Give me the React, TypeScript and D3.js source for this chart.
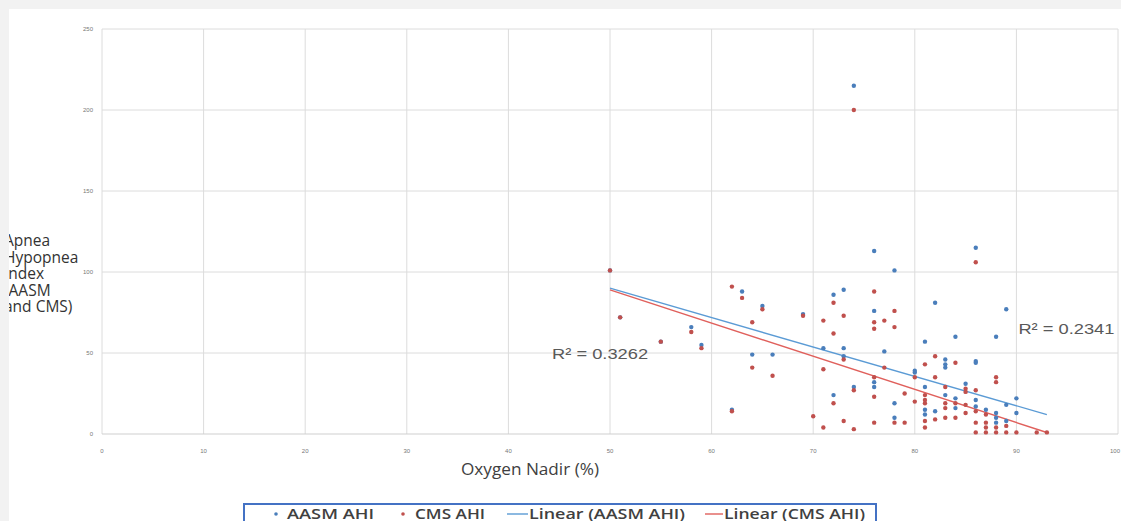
import React, { useRef, useEffect } from "react";
import * as d3 from "d3";

// scatter values: [oxygen nadir %, AHI]
const aasmAhi: [number, number][] = [
  [50, 101], [51, 72], [55, 57], [58, 66], [59, 55], [62, 15], [63, 88], [64, 49],
  [65, 79], [66, 49], [69, 74], [71, 53], [72, 86], [72, 24], [73, 89], [73, 53],
  [73, 48], [74, 215], [74, 29], [76, 113], [76, 76], [76, 32], [76, 29], [77, 51],
  [78, 101], [78, 19], [78, 10], [80, 39], [80, 38], [81, 57], [81, 29], [81, 15],
  [81, 12], [82, 81], [82, 14], [83, 46], [83, 43], [83, 41], [83, 24], [84, 60],
  [84, 22], [84, 16], [85, 31], [86, 115], [86, 45], [86, 44], [86, 21], [86, 17],
  [87, 15], [88, 60], [88, 13], [88, 10], [88, 7], [89, 77], [89, 18], [89, 8],
  [90, 22], [90, 13],
];

const cmsAhi: [number, number][] = [
  [50, 101], [51, 72], [55, 57], [58, 63], [59, 53], [62, 91], [62, 14], [63, 84],
  [64, 69], [64, 41], [65, 77], [66, 36], [69, 73], [70, 11], [71, 70], [71, 40],
  [71, 4], [72, 81], [72, 62], [72, 19], [73, 73], [73, 46], [73, 8], [74, 200],
  [74, 27], [74, 3], [76, 88], [76, 69], [76, 65], [76, 35], [76, 23], [76, 7],
  [77, 70], [77, 41], [78, 76], [78, 66], [78, 7], [79, 25], [79, 7], [80, 35],
  [80, 20], [81, 43], [81, 24], [81, 21], [81, 19], [81, 8], [81, 4], [82, 48],
  [82, 35], [82, 9], [83, 29], [83, 19], [83, 16], [83, 10], [84, 44], [84, 19],
  [84, 10], [85, 28], [85, 26], [85, 18], [85, 13], [86, 106], [86, 27], [86, 14],
  [86, 7], [86, 1], [87, 12], [87, 7], [87, 4], [87, 1], [88, 35], [88, 32],
  [88, 4], [88, 1], [89, 5], [89, 1], [90, 1], [92, 1], [93, 1],
];

// trend lines as drawn (slope, intercept), over x range
const trendRange = [50, 93];
const aasmTrend = { slope: -1.814, intercept: 180.7 };
const cmsTrend = { slope: -2.047, intercept: 191.3 };

const xTicks = [0, 10, 20, 30, 40, 50, 60, 70, 80, 90, 100];
const yTicks = [0, 50, 100, 150, 200, 250];
const yTitleLines = ["Apnea", "Hypopnea", "Index", "(AASM", "and CMS)"];
const legendItems = ["AASM AHI", "CMS AHI", "Linear (AASM AHI)", "Linear (CMS AHI)"];

const App = () => {
  const ref = useRef<SVGSVGElement>(null);

  useEffect(() => {
    const width = 1121;
    const height = 521;
    const blue = "#4a7ebb";
    const red = "#c0504d";
    const blueLine = "#5b9bd5";
    const redLine = "#e0605c";
    const grid = "#dcdcdc";

    const svg = d3.select(ref.current).attr("width", width).attr("height", height);
    svg.selectAll("*").remove();

    // page background + white card
    svg.append("rect").attr("width", width).attr("height", height).attr("fill", "#f2f2f2");
    svg.append("rect").attr("x", 9).attr("y", 9).attr("width", width - 9).attr("height", height - 9).attr("fill", "#fff");

    const xScale = d3.scaleLinear().domain([0, 100]).range([102, 1118]);
    const yScale = d3.scaleLinear().domain([0, 250]).range([434, 29]);

    // gridlines
    svg.append("g").selectAll("line").data(xTicks).enter().append("line")
      .attr("x1", d => xScale(d)).attr("x2", d => xScale(d))
      .attr("y1", yScale(250)).attr("y2", yScale(0))
      .attr("stroke", grid).attr("stroke-width", 1);
    svg.append("g").selectAll("line").data(yTicks).enter().append("line")
      .attr("x1", xScale(0)).attr("x2", xScale(100))
      .attr("y1", d => yScale(d)).attr("y2", d => yScale(d))
      .attr("stroke", d => (d === 0 ? "#cfcfcf" : grid)).attr("stroke-width", 1);

    // tick labels
    svg.append("g").selectAll("text").data(yTicks).enter().append("text")
      .attr("x", 93).attr("y", d => yScale(d) + 2)
      .attr("text-anchor", "end")
      .style("font-family", "Liberation Sans, Arial, sans-serif")
      .style("font-size", "6px").style("fill", "#777")
      .text(d => d);
    svg.append("g").selectAll("text").data(xTicks.filter(d => d < 100)).enter().append("text")
      .attr("x", d => xScale(d)).attr("y", 453)
      .attr("text-anchor", "middle")
      .style("font-family", "Liberation Sans, Arial, sans-serif")
      .style("font-size", "6px").style("fill", "#777")
      .text(d => d);
    // last tick label sits at the right edge
    svg.append("text")
      .attr("x", width - 1).attr("y", 453).attr("text-anchor", "end")
      .style("font-family", "Liberation Sans, Arial, sans-serif")
      .style("font-size", "6px").style("fill", "#777")
      .text(xTicks[xTicks.length - 1]);

    // trend lines
    const trend = (t: { slope: number; intercept: number }, color: string) => {
      svg.append("line")
        .attr("x1", xScale(trendRange[0])).attr("y1", yScale(t.slope * trendRange[0] + t.intercept))
        .attr("x2", xScale(trendRange[1])).attr("y2", yScale(t.slope * trendRange[1] + t.intercept))
        .attr("stroke", color).attr("stroke-width", 1.4);
    };
    trend(aasmTrend, blueLine);
    trend(cmsTrend, redLine);

    // points
    svg.append("g").selectAll("circle").data(aasmAhi).enter().append("circle")
      .attr("cx", d => xScale(d[0])).attr("cy", d => yScale(d[1]))
      .attr("r", 2.2).attr("fill", blue);
    svg.append("g").selectAll("circle").data(cmsAhi).enter().append("circle")
      .attr("cx", d => xScale(d[0])).attr("cy", d => yScale(d[1]))
      .attr("r", 2.2).attr("fill", red);

    // R² labels
    const rText = (x: number, y: number, label: string) => {
      svg.append("text")
        .attr("x", xScale(x)).attr("y", yScale(y))
        .attr("textLength", 96).attr("lengthAdjust", "spacingAndGlyphs")
        .style("font-family", "Liberation Sans, Arial, sans-serif")
        .style("font-size", "15.5px").style("fill", "#595959")
        .text(label);
    };
    rText(44.3, 46, "R² = 0.3262");
    rText(90.2, 61.5, "R² = 0.2341");

    // y axis title (clipped by the card edge)
    svg.append("clipPath").attr("id", "cardClip").append("rect")
      .attr("x", 9).attr("y", 0).attr("width", 200).attr("height", height);
    svg.append("g").attr("clip-path", "url(#cardClip)")
      .selectAll("text").data(yTitleLines).enter().append("text")
      .attr("x", 4).attr("y", (d, i) => 246 + i * 16.5)
      .style("font-family", "Open Sans, sans-serif")
      .style("font-size", "15.5px").style("fill", "#333")
      .text(d => d);

    // x axis title
    svg.append("text")
      .attr("x", 461).attr("y", 475)
      .attr("textLength", 138).attr("lengthAdjust", "spacingAndGlyphs")
      .style("font-family", "Open Sans, sans-serif")
      .style("font-size", "16px").style("fill", "#404040")
      .text("Oxygen Nadir (%)");

    // legend
    svg.append("rect")
      .attr("x", 244).attr("y", 504).attr("width", 632).attr("height", 30)
      .attr("fill", "#fff").attr("stroke", "#4472c4").attr("stroke-width", 2);
    const markerX = [276, 403, 507, 705];
    const textX = [287, 415, 529, 724];
    const textW = [87, 70, 156, 141];
    const legendColors = [blue, red, blueLine, redLine];
    legendItems.forEach((label, i) => {
      if (i < 2) {
        svg.append("circle").attr("cx", markerX[i]).attr("cy", 514).attr("r", 1.8).attr("fill", legendColors[i]);
      } else {
        svg.append("line").attr("x1", markerX[i]).attr("x2", textX[i] - 1)
          .attr("y1", 514).attr("y2", 514).attr("stroke", legendColors[i]).attr("stroke-width", 1.4);
      }
      svg.append("text")
        .attr("x", textX[i]).attr("y", 519)
        .attr("textLength", textW[i]).attr("lengthAdjust", "spacingAndGlyphs")
        .style("font-family", "Open Sans, sans-serif").style("font-weight", 600)
        .style("font-size", "14px").style("fill", "#404040")
        .text(label);
    });
  }, []);

  return (
    <svg ref={ref} style={{ position: "absolute", left: 0, top: 0, display: "block" }}></svg>
  );
};

export default App;
